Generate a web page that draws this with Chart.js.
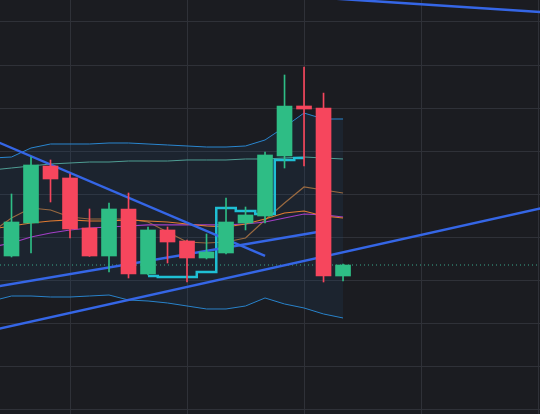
<!DOCTYPE html>
<html>
<head>
<meta charset="utf-8">
<script src="https://cdn.jsdelivr.net/npm/chart.js@4.4.0/dist/chart.umd.min.js"></script>
<style>
    html, body { margin: 0; padding: 0; background: #1b1c21; }
    canvas { display: block; }
</style>
</head>
<body>
<canvas id="chart" width="540" height="414"></canvas>
<script>
// candles (index 0 = first visible candle)
var candleIdx = [0, 1, 2, 3, 4, 5, 6, 7, 8, 9, 10, 11, 12, 13, 14, 15, 16, 17];
var opens  = [105.70, 113.36, 126.58, 123.80, 112.20, 105.70, 116.61, 101.53, 111.74, 109.18, 105.24, 106.40, 113.36, 114.98, 128.90, 140.51, 140.04, 101.06];
var highs  = [120.09, 128.67, 127.98, 124.73, 116.61, 118.00, 120.32, 112.43, 112.43, 109.42, 110.81, 119.16, 117.07, 129.83, 147.70, 149.55, 143.50, 103.85];
var lows   = [105.47, 106.40, 118.23, 109.88, 105.60, 101.99, 100.60, 101.29, 104.08, 99.67, 105.01, 106.17, 111.74, 113.36, 126.12, 126.58, 99.67, 99.90];
var closes = [113.59, 126.82, 123.57, 111.97, 105.70, 116.61, 101.53, 111.74, 108.95, 105.24, 106.63, 113.59, 115.22, 129.14, 140.51, 139.81, 101.06, 103.61];

// indicators (index -1 is the candle just off screen)
var lineIdx = [-1, 0, 1, 2, 3, 4, 5, 6, 7, 8, 9, 10, 11, 12, 13, 14, 15, 16, 17];
var bbUpper = [128.44, 128.67, 130.76, 131.69, 131.69, 131.69, 131.92, 131.92, 131.69, 131.46, 131.23, 130.99, 130.99, 131.23, 132.62, 135.63, 138.88, 137.49, 137.49];
var bbLower = [95.26, 96.42, 96.42, 96.19, 96.19, 96.42, 96.65, 95.49, 95.26, 94.80, 94.10, 93.41, 93.41, 94.10, 95.96, 94.57, 93.64, 92.25, 91.32];
var maLong  = [125.66, 126.12, 126.58, 127.05, 127.28, 127.51, 127.51, 127.74, 127.74, 127.74, 127.98, 127.98, 127.98, 128.21, 128.21, 128.44, 128.67, 128.44, 128.21];
var maMid   = [111.97, 112.66, 113.36, 113.82, 114.06, 113.82, 113.82, 114.06, 113.82, 113.59, 113.13, 112.66, 112.43, 113.13, 114.29, 115.68, 116.14, 114.98, 114.52];
var maFast  = [111.27, 114.52, 116.84, 116.38, 114.75, 114.29, 114.29, 114.29, 113.59, 111.27, 108.95, 108.72, 108.95, 109.88, 114.06, 118.00, 121.71, 121.02, 120.32];
var maSlow  = [107.80, 108.72, 110.11, 111.04, 111.74, 112.20, 112.43, 112.66, 112.90, 112.90, 112.90, 112.90, 112.90, 113.13, 113.59, 114.52, 115.45, 115.22, 114.75];
var stopLine = [null, null, null, null, null, null, null, null, 101.06, 100.83, 100.83, 101.99, 116.84, 116.14, 115.45, 127.98, 128.44, null, null];

// drawn trend lines: [start, end]
var trendAx = [-1, 13], trendAy = [132.71, 105.75];
var trendBx = [-1, 16], trendBy = [98.42, 111.50];
var trendCx = [-1, 28], trendCy = [88.46, 117.61];
var trendDx = [10, 28], trendDy = [167.35, 162.06];

var xGridTicks = [3, 9, 15, 21, 27];
var yGridTicks = [70, 80, 90, 100, 110, 120, 130, 140, 150, 160];

var UP = '#2ebd85';
var DOWN = '#f6465d';

function points(xs, ys)
{
    var out = [];
    for (var i = 0; i < xs.length; i++) {
        out.push({x: xs[i], y: ys[i]});
    }
    return out;
}

function lineSet(xs, ys, color, width, order)
{
    return {
        type: 'line',
        data: points(xs, ys),
        borderColor: color,
        borderWidth: width,
        pointRadius: 0,
        tension: 0,
        fill: false,
        order: order
    };
}

var bodies = [];
var wicks = [];
var candleColors = [];
for (var i = 0; i < candleIdx.length; i++) {
    bodies.push({x: candleIdx[i], y: [opens[i], closes[i]]});
    wicks.push({x: candleIdx[i], y: [lows[i], highs[i]]});
    candleColors.push(closes[i] >= opens[i] ? UP : DOWN);
}

var lastPrice = closes[closes.length - 1];

var upperSet = lineSet(lineIdx, bbUpper, '#2a86cf', 1, 5);
upperSet.fill = '+1';
upperSet.backgroundColor = 'rgba(40, 95, 150, 0.13)';

var stopSet = lineSet(lineIdx, stopLine, '#1fbfd4', 2.5, 3);
stopSet.stepped = 'middle';

var priceSet = lineSet([-1, 28], [lastPrice, lastPrice], '#3aa88c', 1, 4);
priceSet.borderDash = [1, 3];

new Chart(document.getElementById('chart'), {
    type: 'bar',
    data: {
        datasets: [
            {
                data: bodies,
                backgroundColor: candleColors,
                borderWidth: 0,
                barThickness: 15,
                grouped: false,
                order: 0
            },
            {
                data: wicks,
                backgroundColor: candleColors,
                borderWidth: 0,
                barThickness: 1,
                grouped: false,
                order: 1
            },
            upperSet,
            lineSet(lineIdx, bbLower, '#2a86cf', 1, 6),
            lineSet(lineIdx, maLong, '#4f9e94', 1, 4),
            lineSet(lineIdx, maMid, '#e07b32', 1.2, 4),
            lineSet(lineIdx, maSlow, '#a23fc6', 1.2, 4),
            lineSet(lineIdx, maFast, '#9a6a40', 1.2, 4),
            stopSet,
            priceSet,
            lineSet(trendAx, trendAy, '#3566e6', 2.5, 2),
            lineSet(trendBx, trendBy, '#3566e6', 2.5, 2),
            lineSet(trendCx, trendCy, '#3566e6', 2.5, 2),
            lineSet(trendDx, trendDy, '#3566e6', 2.5, 2)
        ]
    },
    options: {
        responsive: false,
        animation: false,
        layout: { padding: 0 },
        plugins: {
            legend: { display: false },
            tooltip: { enabled: false }
        },
        scales: {
            x: {
                type: 'linear',
                min: -0.59,
                max: 27.1,
                offset: false,
                grid: { color: '#2f3138', offset: false, drawTicks: false },
                border: { display: false },
                ticks: { display: false },
                afterBuildTicks: function(axis) {
                    axis.ticks = xGridTicks.map(function(v) { return {value: v}; });
                }
            },
            y: {
                type: 'linear',
                min: 69.04,
                max: 165.10,
                grid: { color: '#2f3138', drawTicks: false },
                border: { display: false },
                ticks: { display: false },
                afterBuildTicks: function(axis) {
                    axis.ticks = yGridTicks.map(function(v) { return {value: v}; });
                }
            }
        }
    }
});
</script>
</body>
</html>
